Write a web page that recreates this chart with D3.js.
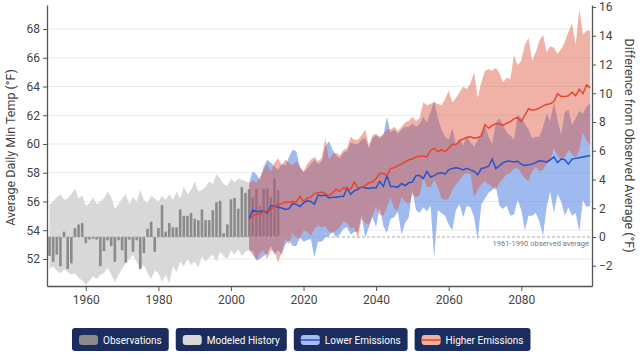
<!DOCTYPE html>
<html><head><meta charset="utf-8">
<script src="https://cdn.jsdelivr.net/npm/d3@7"></script>
<style>body{margin:0;background:#fff}svg{display:block;font-family:Roboto,"Noto Sans",sans-serif}</style>
</head><body><svg id="c" width="640" height="360"></svg>
<script>
// ---------- DATA ----------
const obsStartYear = 1950;
const observations = [
  52.2, 51.8, 52.3, 51.5, 53.9, 51.3, 51.7, 54.15, 54.4, 54.5,
  53.1, 53.35, 53.4, 53.35, 51.5, 52.55, 53.3, 52.9, 51.8, 53.3,
  52.6, 51.75, 53.35, 52.5, 53.3, 51.3, 52.4, 54.1, 54.6, 52.5,
  54.15, 55.75, 53.9, 54.5, 54.2, 54.2, 55.45, 55.0, 55.0, 55.2,
  54.8, 54.7, 55.45, 54.7, 54.7, 55.4, 55.95, 56.05, 53.8, 54.4,
  56.15, 56.25, 55.5, 57.0, 56.6, 56.85, 56.3, 56.9, 55.7, 56.9,
  56.9, 56.3, 57.6, 56.8
];
const histStartYear = 1950;
const histUpper = [
  55.8, 56.0, 56.3, 56.5, 56.1, 56.2, 56.5, 56.9, 56.2, 56.4,
  55.7, 55.9, 56.3, 55.8, 56.0, 56.2, 56.7, 56.3, 55.5, 55.8,
  56.2, 56.5, 55.8, 56.3, 56.0, 56.8, 56.1, 55.9, 56.4, 56.2,
  56.0, 56.4, 56.1, 56.5, 56.1, 56.7, 56.2, 57.05, 56.5, 56.8,
  57.4, 56.7, 56.8, 57.0, 57.4, 57.2, 57.9, 57.6, 57.2, 57.1,
  57.6, 57.3, 57.6, 57.5, 57.4, 57.3
];
const histLower = [
  51.3, 51.5, 51.2, 51.0, 51.3, 51.1, 50.9, 51.0, 50.7, 50.5,
  50.2, 50.5, 50.8, 50.6, 50.9, 51.0, 51.4, 50.9, 50.4, 50.9,
  51.3, 51.7, 52.0, 52.3, 51.8, 51.3, 51.6, 51.0, 50.6, 51.2,
  51.0, 50.4, 50.9, 50.3, 51.5, 51.1, 51.8, 51.5, 52.0, 51.6,
  51.8, 51.4, 52.2, 51.8, 52.1, 52.3, 51.8, 52.5, 52.2, 52.0,
  52.6, 52.3, 52.7, 52.2, 52.5, 52.6
];
const projStartYear = 2005;
const lowerMean = [
  54.8, 55.4, 55.3, 55.3, 55.35, 55.2, 55.7, 55.7, 55.6, 55.55,
  55.45, 55.5, 55.85, 55.8, 55.65, 55.9, 56.05, 56.0, 55.8, 56.45,
  56.4, 56.45, 56.25, 56.3, 56.3, 56.35, 56.35, 56.95, 56.5, 56.75,
  56.85, 57.0, 56.95, 56.9, 56.95, 56.95, 57.4, 57.05, 57.8, 57.05,
  57.05, 57.0, 57.25, 57.1, 57.3, 57.35, 57.8, 57.8, 57.6, 58.1,
  57.7, 57.8, 57.95, 58.0, 57.9, 58.2, 58.3, 58.35, 58.3, 58.2,
  58.3, 58.2, 58.1, 57.85, 58.3, 58.35, 58.45, 58.95, 58.3, 58.5,
  58.7, 58.8, 58.8, 58.75, 58.8, 58.6, 58.5, 58.55, 58.6, 58.7,
  58.85, 58.8, 58.75, 58.9, 59.1, 58.7, 58.95, 58.9, 58.6, 58.95,
  59.0, 59.05, 59.1, 59.15, 59.2
];
const lowerUpper = [
  57.3, 58.1, 57.9, 57.5, 58.4, 58.9, 58.7, 58.45, 58.2, 58.6,
  58.5, 59.1, 59.6, 59.5, 58.4, 58.0, 58.3, 58.6, 58.9, 58.6,
  58.8, 59.8, 60.2, 59.6, 59.2, 59.0, 59.4, 59.5, 60.1, 60.0,
  60.0, 60.3, 60.4, 59.7, 60.4, 60.6, 60.4, 60.6, 61.9, 60.8,
  61.0, 60.7, 61.0, 61.2, 61.2, 61.4, 61.2, 61.4, 61.9, 61.5,
  62.2, 63.0, 61.8, 61.0, 60.5, 60.3, 61.1, 60.0, 60.4, 59.9,
  60.6, 60.1, 59.8, 60.3, 60.8, 61.3, 60.5, 60.0, 61.5, 61.8,
  61.3, 60.8, 60.6, 60.3, 62.0, 61.8, 61.4, 61.0, 60.4, 60.5,
  60.5, 61.2, 62.1, 61.6, 62.9, 61.7, 60.6, 62.2, 62.4, 61.3,
  61.8, 62.3, 62.1, 62.6, 62.8
];
const lowerLower = [
  52.65, 52.5, 51.9, 52.0, 52.2, 52.4, 52.9, 52.3, 52.6, 52.3,
  53.0, 53.3, 52.9, 52.9, 53.5, 53.2, 53.3, 53.4, 52.1, 53.2,
  53.2, 53.5, 53.6, 53.9, 53.5, 53.7, 54.1, 54.2, 53.7, 53.9,
  53.9, 55.0, 53.5, 54.2, 54.9, 54.2, 55.6, 54.3, 53.8, 54.8,
  54.9, 55.3, 53.7, 54.5, 54.9, 56.8, 55.4, 55.2, 55.6, 55.3,
  55.7, 52.1, 55.4, 55.2, 55.0, 54.4, 54.0, 55.4, 55.8, 54.9,
  55.7, 55.6, 54.9, 53.3, 55.8, 56.2, 56.6, 56.8, 57.05, 55.7,
  55.5, 55.7, 55.0, 55.1, 56.1, 55.4, 54.0, 55.0, 55.0, 55.2,
  54.6, 53.6, 55.6, 56.7, 55.2, 56.5, 56.0, 55.0, 55.6, 55.0,
  55.2, 53.9, 56.1, 55.6, 55.7
];
const higherMean = [
  54.75, 55.0, 55.15, 55.1, 55.3, 55.35, 55.4, 55.7, 55.75, 55.85,
  55.95, 55.95, 56.0, 55.95, 56.35, 56.0, 56.25, 56.3, 56.55, 56.6,
  56.65, 56.55, 56.4, 56.6, 56.85, 56.7, 56.95, 56.9, 56.85, 57.35,
  56.95, 57.0, 57.1, 57.3, 57.35, 57.6, 57.95, 57.95, 57.8, 58.3,
  58.35, 58.5, 58.6, 58.75, 58.9, 58.95, 59.1, 59.15, 59.15, 59.1,
  59.55, 59.7, 59.45, 59.6, 59.45, 59.7, 60.0, 59.95, 60.2, 60.35,
  60.45, 60.5, 60.4, 60.45, 60.55, 61.35, 61.1, 61.3, 61.4, 61.4,
  61.3, 61.45, 61.55, 61.75, 61.85, 61.55, 62.0, 62.45, 62.35, 62.4,
  62.5, 62.65, 62.75, 62.8, 62.95, 63.5, 63.3, 63.3, 63.35, 63.6,
  63.35, 63.8, 63.5, 64.1, 63.9
];
const higherUpper = [
  57.2, 57.5, 57.3, 57.7, 58.2, 58.6, 58.1, 58.7, 59.0, 58.5,
  58.9, 58.7, 58.5, 58.8, 58.4, 58.1, 58.6, 58.9, 59.1, 58.8,
  59.0, 60.4, 58.9, 59.3, 59.4, 59.2, 59.6, 59.7, 60.5, 60.3,
  60.3, 60.6, 61.0, 59.9, 60.6, 60.7, 60.5, 60.7, 61.0, 61.0,
  61.2, 60.9, 61.2, 61.5, 61.6, 61.9, 61.6, 61.8, 62.9, 62.7,
  62.8, 62.9, 62.8, 62.7, 63.1, 63.7, 62.9, 63.2, 63.6, 64.0,
  63.8, 64.2, 65.0, 63.2, 64.3, 65.1, 65.2, 65.1, 65.3, 64.9,
  64.3, 64.6, 64.5, 66.2, 65.5, 65.8, 66.9, 67.4, 65.8, 66.4,
  67.2, 67.6, 66.4, 66.8, 66.7, 66.3, 66.6, 67.1, 67.8, 68.4,
  66.9, 69.4, 67.6, 67.9, 67.9
];
const higherLower = [
  52.65, 52.3, 51.95, 52.4, 52.6, 52.0, 52.6, 52.5, 51.75, 52.5,
  53.4, 53.0, 53.8, 53.5, 53.4, 54.0, 53.9, 53.6, 54.1, 54.3,
  54.2, 54.3, 53.9, 53.8, 54.0, 54.2, 54.6, 54.5, 54.1, 54.2,
  53.4, 54.8, 54.5, 54.4, 55.0, 55.6, 55.1, 55.0, 55.6, 56.3,
  55.5, 55.4, 56.3, 56.0, 55.8, 56.5, 56.3, 56.4, 57.7, 57.0,
  57.0, 57.5, 57.0, 56.2, 56.1, 56.2, 56.8, 57.2, 57.5, 57.8,
  58.0, 57.9, 56.3, 56.8, 57.2, 57.4, 57.2, 57.0, 56.8, 57.3,
  57.6, 57.9, 58.0, 58.3, 58.3, 58.0, 57.6, 57.4, 58.1, 58.4,
  58.1, 58.2, 58.6, 58.8, 59.7, 59.2, 58.9, 59.1, 59.6, 59.3,
  59.0, 59.6, 60.8, 60.2, 60.0
];
const observedAverage = 53.53;
const leftTicks = [52, 54, 56, 58, 60, 62, 64, 66, 68];
const rightTicks = [-2, 0, 2, 4, 6, 8, 10, 12, 14, 16];
const xTicks = [1960, 1980, 2000, 2020, 2040, 2060, 2080];
const leftTitle = "Average Daily Min Temp (°F)";
const rightTitle = "Difference from Observed Average (°F)";
const baselineLabel = "1961-1990 observed average";
const legendLabels = ["Observations", "Modeled History", "Lower Emissions", "Higher Emissions"];

// ---------- CHART ----------
const svg = d3.select("#c");
const L = 47, R = 592, T = 5, B = 286;
const yMin = 50.12, yMax = 69.67;
const x = d3.scaleLinear().domain([1949.3, 2099.5]).range([L, R]);
const y = d3.scaleLinear().domain([yMin, yMax]).range([B, T]);
const yR = d3.scaleLinear().domain([yMin - observedAverage, yMax - observedAverage]).range([B, T]);

const C = {
  bar: "#8b8b8b", hist: "#d8d8d8",
  blueFill: "rgb(80,130,225)", blueOp: 0.55,
  redFill: "rgb(222,85,60)", redOp: 0.45,
  blueLine: "#2453cf", redLine: "#e8452b",
  axis: "#555", text: "#444", grid: "#ececec", navy: "#1b2d5c"
};

svg.append("defs").append("clipPath").attr("id", "clip")
  .append("rect").attr("x", L).attr("y", T).attr("width", R - L).attr("height", B - T);

// grid
svg.append("g").selectAll("line").data(leftTicks).join("line")
  .attr("x1", L).attr("x2", R).attr("y1", d => y(d)).attr("y2", d => y(d))
  .attr("stroke", C.grid).attr("stroke-width", 1);

const plot = svg.append("g").attr("clip-path", "url(#clip)");

const histData = histUpper.map((u, i) => ({ yr: histStartYear + i, u, l: histLower[i] }));
const area = d3.area().x(d => x(d.yr)).y0(d => y(d.l)).y1(d => y(d.u));
plot.append("path").datum(histData).attr("d", area).attr("fill", C.hist);

// observation bars
const step = x(1951) - x(1950);
const bw = step * 0.72;
plot.append("g").selectAll("rect").data(observations).join("rect")
  .attr("x", (d, i) => x(obsStartYear + i) - bw / 2)
  .attr("width", bw)
  .attr("y", d => y(Math.max(d, observedAverage)))
  .attr("height", d => Math.abs(y(d) - y(observedAverage)))
  .attr("fill", C.bar);

// projection bands
const lowData = lowerUpper.map((u, i) => ({ yr: projStartYear + i, u, l: lowerLower[i], m: lowerMean[i] }));
const highData = higherUpper.map((u, i) => ({ yr: projStartYear + i, u, l: higherLower[i], m: higherMean[i] }));
plot.append("path").datum(lowData).attr("d", area).attr("fill", C.blueFill).attr("fill-opacity", C.blueOp);
plot.append("path").datum(highData).attr("d", area).attr("fill", C.redFill).attr("fill-opacity", C.redOp);

// baseline
svg.append("line").attr("x1", L).attr("x2", R).attr("y1", y(observedAverage)).attr("y2", y(observedAverage))
  .attr("stroke", "#aaa").attr("stroke-width", 1).attr("stroke-dasharray", "3,2");
svg.append("text").attr("x", R - 3).attr("y", y(observedAverage) + 9).attr("text-anchor", "end")
  .attr("font-size", "7.5px").attr("fill", "#777").text(baselineLabel);

// lines
const line = d3.line().x(d => x(d.yr)).y(d => y(d.m));
plot.append("path").datum(lowData).attr("d", line).attr("fill", "none").attr("stroke", C.blueLine).attr("stroke-width", 1.5);
plot.append("path").datum(highData).attr("d", line).attr("fill", "none").attr("stroke", C.redLine).attr("stroke-width", 1.5);

// axes
function styleAxis(g) {
  g.select(".domain").attr("stroke", C.axis).attr("stroke-width", 1.3);
  g.selectAll(".tick line").attr("stroke", C.axis);
  g.selectAll(".tick text").attr("fill", C.text).attr("font-size", "12px").attr("font-family", "Roboto, sans-serif");
}
svg.append("g").attr("transform", `translate(${L},0)`)
  .call(d3.axisLeft(y).tickValues(leftTicks).tickSize(4).tickSizeOuter(0).tickPadding(3)).call(styleAxis);
svg.append("g").attr("transform", `translate(${R},0)`)
  .call(d3.axisRight(yR).tickValues(rightTicks).tickSize(4).tickSizeOuter(0).tickPadding(3)).call(styleAxis);
svg.append("g").attr("transform", `translate(0,${B})`)
  .call(d3.axisBottom(x).tickValues(xTicks).tickFormat(d3.format("d")).tickSize(5).tickSizeOuter(0).tickPadding(4)).call(styleAxis);

svg.append("text").attr("transform", `translate(15,${(T + B) / 2 + 2}) rotate(-90)`).attr("text-anchor", "middle")
  .attr("font-size", "12.5px").attr("fill", C.text).text(leftTitle);
svg.append("text").attr("transform", `translate(625,${(T + B) / 2}) rotate(90)`).attr("text-anchor", "middle")
  .attr("font-size", "12.5px").attr("fill", C.text).text(rightTitle);

// legend
const legend = svg.append("g");
const swatches = [
  { fill: C.bar, line: null },
  { fill: C.hist, line: null },
  { fill: "#a3bdf0", line: C.blueLine },
  { fill: "#f3ae9f", line: C.redLine }
];
let cx = 0;
legendLabels.forEach((lab, i) => {
  const g = legend.append("g").attr("transform", `translate(${cx},0)`);
  const rect = g.append("rect").attr("height", 23).attr("rx", 3).attr("fill", C.navy);
  const sw = swatches[i];
  g.append("rect").attr("x", 7).attr("y", 7).attr("width", 19).attr("height", 10).attr("rx", 3).attr("fill", sw.fill);
  if (sw.line) g.append("line").attr("x1", 7).attr("x2", 26).attr("y1", 12).attr("y2", 12).attr("stroke", sw.line).attr("stroke-width", 1.5);
  const t = g.append("text").attr("x", 31).attr("y", 15.5).attr("font-size", "10px").attr("fill", "#fff").text(lab);
  const w = 31 + t.node().getComputedTextLength() + 7;
  rect.attr("width", w);
  cx += w + 7;
});
legend.attr("transform", `translate(${Math.round(301 - (cx - 7) / 2)},328)`);
</script></body></html>
